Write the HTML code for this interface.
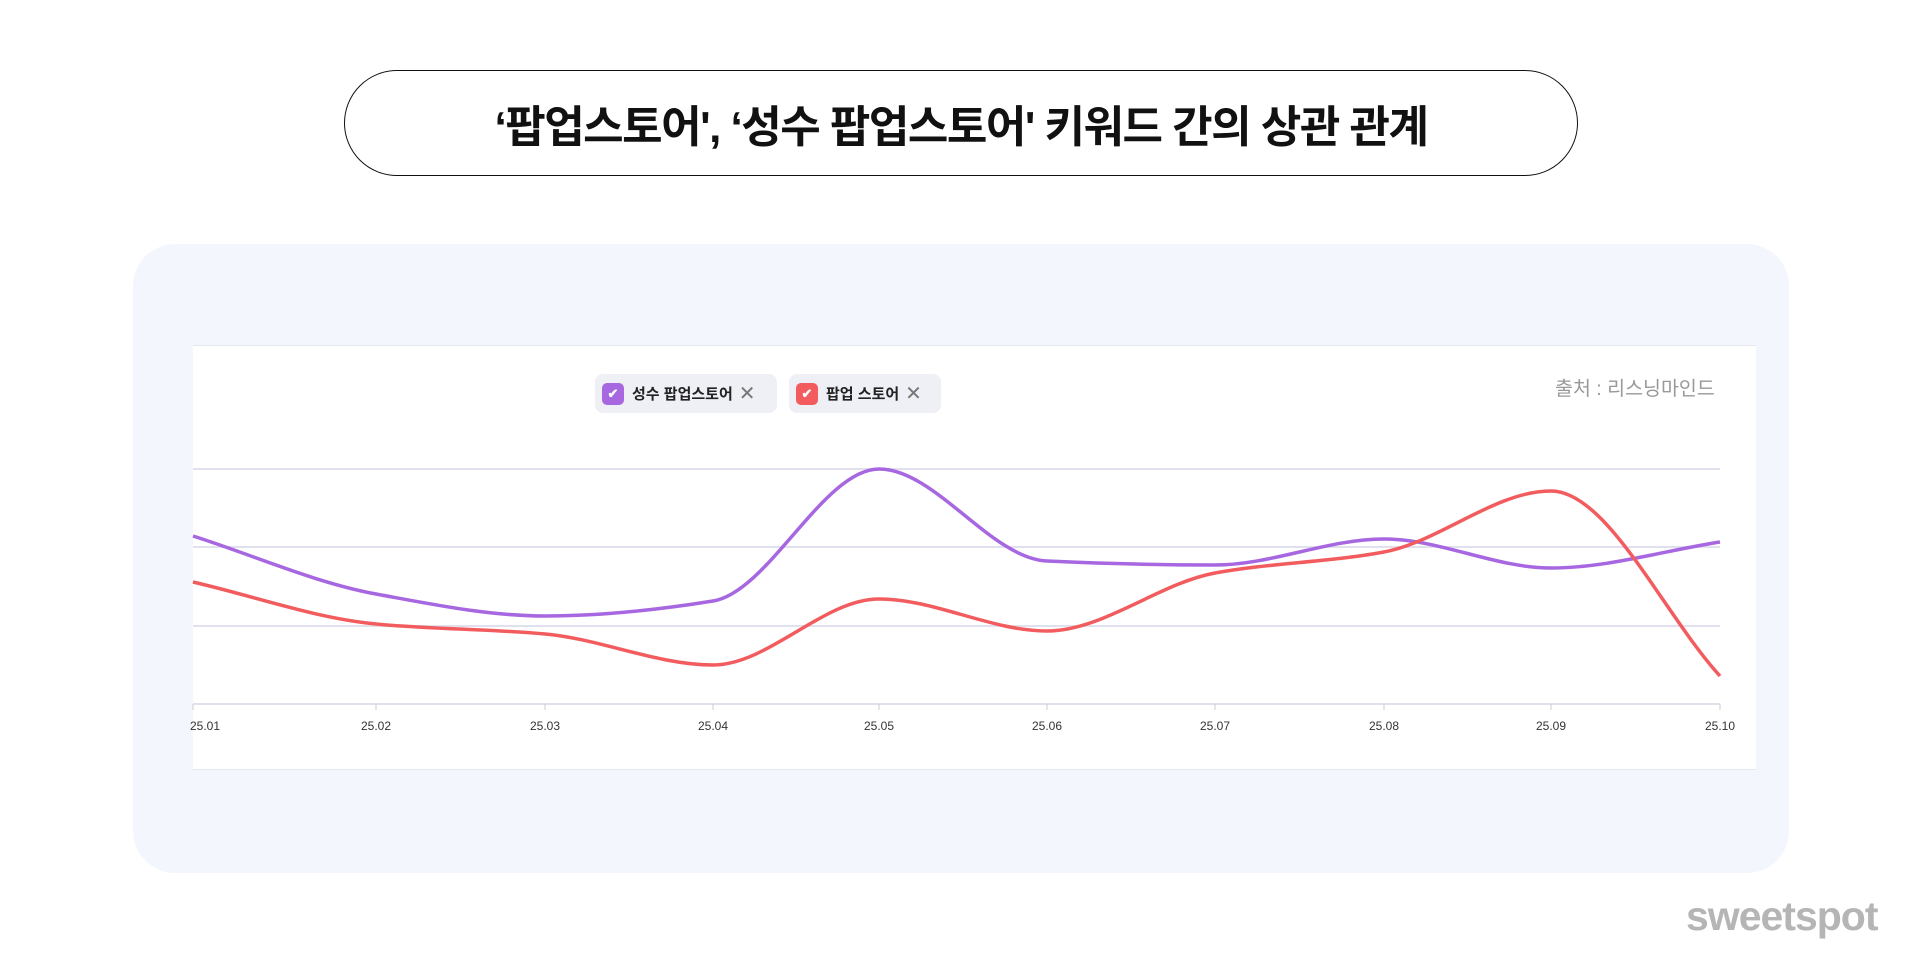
<!DOCTYPE html>
<html><head><meta charset="utf-8"><style>
body{margin:0;width:1920px;height:957px;background:#fff;position:relative;overflow:hidden;font-family:"Liberation Sans","Noto Sans CJK KR",sans-serif}
.title{position:absolute;left:344px;top:70px;width:1234px;height:106px;border:1.5px solid #111;border-radius:54px;box-sizing:border-box;display:flex;align-items:center;justify-content:center;font-size:44px;font-weight:700;color:#111;letter-spacing:-1.5px}
.panel{position:absolute;left:133px;top:244px;width:1656px;height:629px;background:#f3f7fd;border-radius:42px}
.chart{position:absolute;left:193px;top:345px;width:1563px;height:423px;background:#fff;border-top:1px solid #e6e8f0;border-bottom:1px solid #e6e8f0}
.pill{position:absolute;top:374px;height:39px;background:#eff0f6;border-radius:8px;display:flex;align-items:center;font-size:15px;font-weight:700;color:#222}
.cb{width:22px;height:22px;border-radius:5px;margin:0 8px 0 7px;display:flex;align-items:center;justify-content:center;color:#fff;font-size:13px}
.x{color:#777;font-weight:400;font-size:20px;margin-left:6px}
.src{position:absolute;left:1555px;top:372px;font-size:19.5px;color:#999}
.wm{position:absolute;left:1686px;top:893px;font-size:41px;font-weight:700;color:#b5b5b5;letter-spacing:-1px}
</style></head><body>
<div class="title">‘팝업스토어', ‘성수 팝업스토어' 키워드 간의 상관 관계</div>
<div class="panel"></div>
<div class="chart"></div>
<div class="pill" style="left:595px;width:182px"><div class="cb" style="background:#a667e0">✔</div>성수 팝업스토어<span class="x">✕</span></div>
<div class="pill" style="left:789px;width:152px"><div class="cb" style="background:#f25c5e">✔</div>팝업 스토어<span class="x">✕</span></div>
<div class="src">출처 : 리스닝마인드</div>
<svg style="position:absolute;left:0;top:0" width="1920" height="957">
<g stroke="#e0e0ee" stroke-width="2">
<line x1="193" x2="1720" y1="469" y2="469"/><line x1="193" x2="1720" y1="547" y2="547"/><line x1="193" x2="1720" y1="626" y2="626"/><line x1="193" x2="1720" y1="704" y2="704"/>
</g>
<g id="ticks" font-size="12" fill="#333" font-family="Liberation Sans, sans-serif" text-anchor="middle"></g>
<path id="pp" fill="none" stroke="#a667e0" stroke-width="3.5"/>
<path id="rp" fill="none" stroke="#f25c5e" stroke-width="3.5"/>
</svg>
<div class="wm">sweetspot</div>
<script>
var xs=[193,376,545,713,879,1047,1215,1384,1551,1720];
var py=[536,594,616,601,469,561,565,539,568,542];
var ry=[582,624,634,665,599,631,573,552,491,676];
function path(ys){var n=xs.length,d=[],m=[];for(var i=0;i<n-1;i++)d.push((ys[i+1]-ys[i])/(xs[i+1]-xs[i]));
m[0]=d[0];m[n-1]=d[n-2];for(var i=1;i<n-1;i++){if(d[i-1]*d[i]<=0)m[i]=0;else{var h0=xs[i]-xs[i-1],h1=xs[i+1]-xs[i];var w1=2*h1+h0,w2=h1+2*h0;m[i]=(w1+w2)/(w1/d[i-1]+w2/d[i]);}}
var s="M"+xs[0]+","+ys[0];for(var i=0;i<n-1;i++){var h=(xs[i+1]-xs[i])/3;s+=" C"+(xs[i]+h)+","+(ys[i]+m[i]*h)+" "+(xs[i+1]-h)+","+(ys[i+1]-m[i+1]*h)+" "+xs[i+1]+","+ys[i+1];}return s;}
document.getElementById("pp").setAttribute("d",path(py));
document.getElementById("rp").setAttribute("d",path(ry));
var g=document.getElementById("ticks"),s="";
for(var i=0;i<10;i++){var l="25."+(i<9?"0"+(i+1):"10");var x=xs[i];s+='<line x1="'+x+'" x2="'+x+'" y1="704" y2="710" stroke="#ccc"/><text x="'+(i==0?x+12:x)+'" y="730">'+l+'</text>';}
g.innerHTML=s;
</script>
</body></html>
